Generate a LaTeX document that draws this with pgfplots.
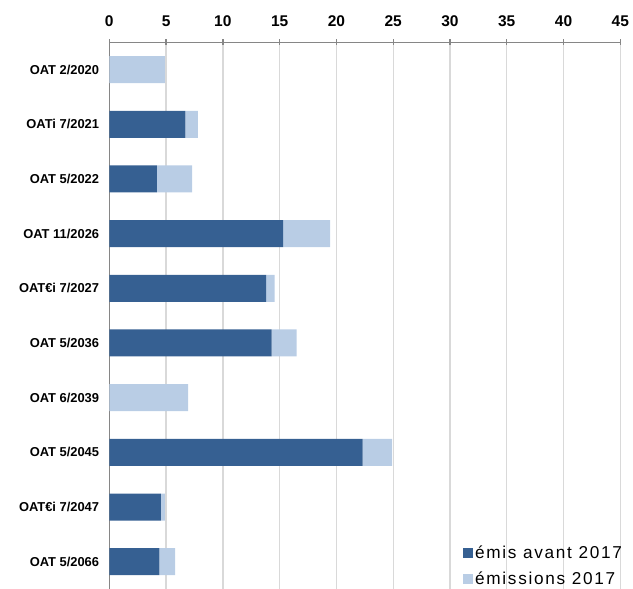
\documentclass[border=0pt]{standalone}
\usepackage{pgfplots}
\pgfplotsset{compat=1.18}
\usepackage{fontspec}
\setmainfont{Liberation Sans}
\newfontfamily\legfont[LetterSpace=10]{Liberation Sans}
\definecolor{darkbar}{RGB}{54,96,146}
\definecolor{lightbar}{RGB}{185,205,229}
\definecolor{axgray}{RGB}{134,134,134}
\definecolor{gridgray}{RGB}{217,217,217}
\begin{document}
\begin{tikzpicture}
\begin{axis}[
  scale only axis,
  width=511bp, height=546.7bp,
  at={(0,0)}, anchor=south west,
  xbar stacked,
  bar width=27bp,
  xmin=0, xmax=45,
  ymin=-0.5, ymax=9.5,
  y dir=reverse,
  axis x line*=top,
  axis y line*=left,
  axis line style={axgray, line width=1.3bp},
  xtick={0,5,...,45},
  xmajorgrids,
  major grid style={gridgray, line width=1.3bp},
  ytick={0,...,9},
  yticklabels={OAT 2/2020, OATi 7/2021, OAT 5/2022, OAT 11/2026, OAT€i 7/2027, OAT 5/2036, OAT 6/2039, OAT 5/2045, OAT€i 7/2047, OAT 5/2066},
  minor ytick={-0.5,0.5,...,9.5},
  tick align=center,
  major tick length=6bp,
  minor tick length=6bp,
  x tick style={axgray, line width=1.3bp},
  y tick style={axgray, line width=1.3bp},
  ytick style={draw=none},
  minor y tick style={axgray, line width=1.3bp, xshift=-3bp},
  /pgf/number format/assume math mode=true,
  xticklabel style={font=\fontsize{15.5bp}{16bp}\selectfont\bfseries, inner sep=0pt, anchor=base, yshift=12.8bp},
  yticklabel style={font=\fontsize{12.9bp}{14bp}\selectfont\bfseries, inner sep=0pt, anchor=east, xshift=-7bp},
  legend style={draw=none, fill=none, inner sep=0pt, at={(0.692,0.002)}, anchor=south west,
    font=\legfont\fontsize{17.2bp}{20bp}\selectfont, row sep=7.5bp, cells={anchor=west}},
  legend image code/.code={\fill[#1] (0bp,-5bp) rectangle (10bp,5bp);},
  clip=false,
]
\addplot+[fill=darkbar, draw=none] coordinates {
  (0,0) (6.7,1) (4.2,2) (15.3,3) (13.8,4) (14.3,5) (0,6) (22.3,7) (4.55,8) (4.4,9)};
\addplot+[fill=lightbar, draw=none] coordinates {
  (4.9,0) (1.1,1) (3.1,2) (4.15,3) (0.75,4) (2.2,5) (6.95,6) (2.6,7) (0.35,8) (1.4,9)};
\legend{émis avant 2017, émissions 2017}
\end{axis}
\pgfresetboundingbox
\path (-109.3bp,0bp) rectangle (523.7bp,589bp);
\end{tikzpicture}
\end{document}
